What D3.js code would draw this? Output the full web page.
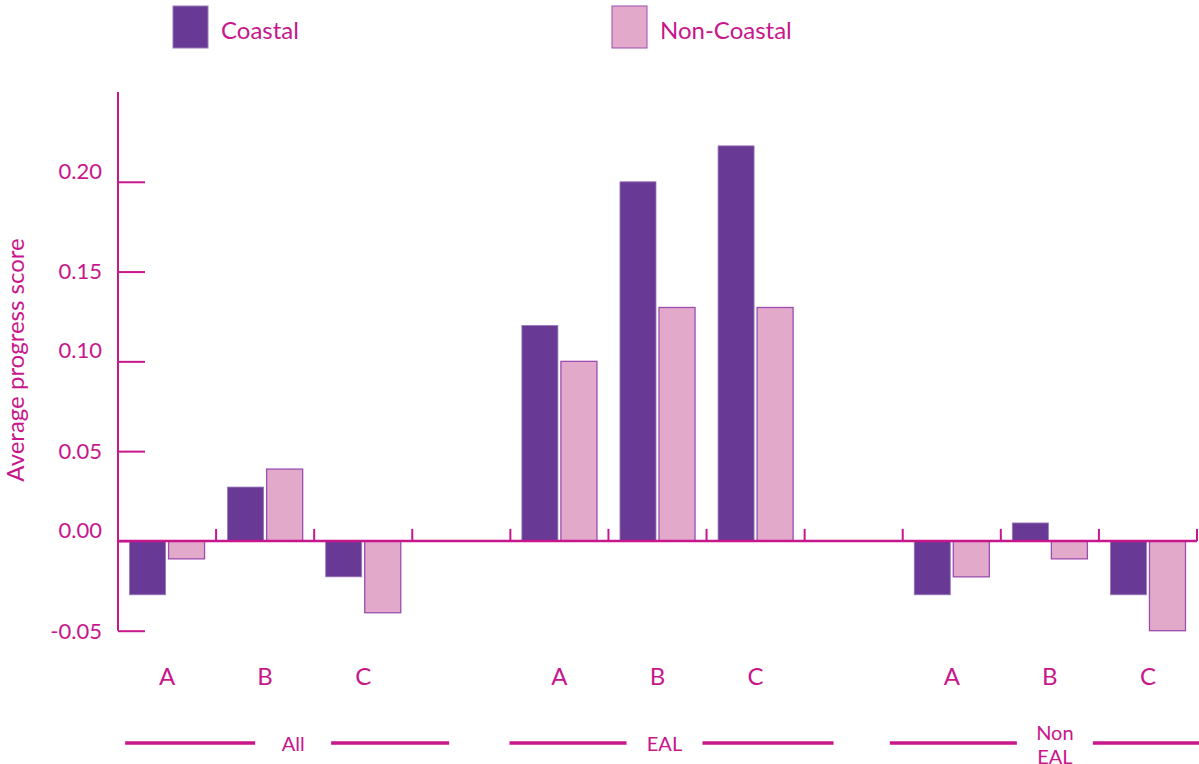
<!DOCTYPE html>
<html><head><meta charset="utf-8">
<script src="https://cdn.jsdelivr.net/npm/d3@7"></script>
<style>body{margin:0;background:#fff}svg{display:block}text{font-family:Lato,"Open Sans",sans-serif}</style>
</head><body>
<svg id="c" width="1199" height="764"></svg>
<script>
// ---- data ----
const groups = ["All", "EAL", "Non EAL"];
const subcats = ["A", "B", "C"];
const seriesNames = ["Coastal", "Non-Coastal"];
const coastal    = [-0.03, 0.03, -0.02,  0.12, 0.20, 0.22,  -0.03, 0.01, -0.03];
const nonCoastal = [-0.01, 0.04, -0.04,  0.10, 0.13, 0.13,  -0.02, -0.01, -0.05];
const yTicks = [-0.05, 0.00, 0.05, 0.10, 0.15, 0.20];

// ---- style / layout ----
const C_TEXT = "#C8168C", C_AXIS = "#C8168C";
const C_COAST = "#693A95", C_NON = "#E3A9CA", C_NON_STROKE = "#9B4DB0", C_COAST_STROKE = "#9878B8";
const svg = d3.select("#c");
const left = 118, right = 1197;

const slots = [];
groups.forEach((g, gi) => {
  subcats.forEach((s, si) => slots.push({key: g + "|" + s, g, s, i: gi * 3 + si}));
  if (gi < groups.length - 1) slots.push({key: g + "|gap", g, s: null});
});
const x = d3.scaleBand().domain(slots.map(d => d.key)).range([left, right]).paddingInner(0).paddingOuter(0);
const x1 = d3.scaleBand().domain(seriesNames).range([0, x.bandwidth()]).paddingInner(0.077).paddingOuter(0.295);
const y = d3.scaleLinear().domain([-0.05, 0.25]).range([630.7, 92]);

// y axis line
svg.append("line").attr("x1", left).attr("x2", left).attr("y1", y(0.25)).attr("y2", y(-0.05))
  .attr("stroke", C_AXIS).attr("stroke-width", 2);
const yAxis = d3.axisRight(y).tickValues(yTicks).tickSize(27).tickFormat("");
const yg = svg.append("g").attr("transform", `translate(${left},0)`).call(yAxis);
yg.select(".domain").remove();
yg.selectAll(".tick line").attr("stroke", C_AXIS).attr("stroke-width", 2);
svg.selectAll(".ylab").data(yTicks).enter().append("text")
  .attr("x", 102).attr("y", (d, i) => y(d) + (i % 2 === 1 ? -11 : 0))
  .attr("dy", "0.36em").attr("text-anchor", "end")
  .attr("fill", C_TEXT).attr("font-size", 22)
  .text(d => d3.format(".2f")(d).replace("−", "-"));

// y title
svg.append("text").attr("transform", `translate(24,360) rotate(-90)`)
  .attr("text-anchor", "middle").attr("fill", C_TEXT).attr("font-size", 24)
  .text("Average progress score");

// bars
const barData = [];
slots.filter(s => s.s).forEach(s => {
  barData.push({slot: s.key, series: "Coastal", v: coastal[s.i]});
  barData.push({slot: s.key, series: "Non-Coastal", v: nonCoastal[s.i]});
});
svg.append("g").selectAll("rect").data(barData).enter().append("rect")
  .attr("x", d => x(d.slot) + x1(d.series))
  .attr("width", x1.bandwidth())
  .attr("y", d => y(Math.max(0, d.v)))
  .attr("height", d => Math.abs(y(d.v) - y(0)))
  .attr("fill", d => d.series === "Coastal" ? C_COAST : C_NON)
  .attr("stroke", d => d.series === "Coastal" ? C_COAST_STROKE : C_NON_STROKE)
  .attr("stroke-width", d => d.series === "Coastal" ? 0.8 : 1.3);

// zero line
svg.append("line").attr("x1", left).attr("x2", right).attr("y1", y(0)).attr("y2", y(0))
  .attr("stroke", C_AXIS).attr("stroke-width", 2.5);
const bounds = slots.map(s => x(s.key) + x.bandwidth()).concat([left]);
svg.selectAll(".stick").data(bounds).enter().append("line")
  .attr("x1", d => d).attr("x2", d => d).attr("y1", y(0) - 12).attr("y2", y(0))
  .attr("stroke", C_AXIS).attr("stroke-width", 2);

// subcategory labels
svg.selectAll(".xlab").data(slots.filter(s => s.s)).enter().append("text")
  .attr("x", d => x(d.key) + x.bandwidth() / 2).attr("y", 685)
  .attr("text-anchor", "middle").attr("fill", C_TEXT).attr("font-size", 24)
  .text(d => d.s);

// group labels with lines
const textOffsets = [28, 7, 5];
const lineOffsets = [22, 14, 2];
groups.forEach((g, gi) => {
  const bc = x(g + "|B") + x.bandwidth() / 2;
  const tx = bc + textOffsets[gi], lc = bc + lineOffsets[gi];
  const half = 162, gap = 38, ly = 743;
  svg.append("line").attr("x1", lc - half).attr("x2", tx - gap).attr("y1", ly).attr("y2", ly)
    .attr("stroke", C_AXIS).attr("stroke-width", 3.5);
  svg.append("line").attr("x1", tx + gap).attr("x2", lc + half).attr("y1", ly).attr("y2", ly)
    .attr("stroke", C_AXIS).attr("stroke-width", 3.5);
  const words = g.split(" ");
  const t = svg.append("text").attr("text-anchor", "middle").attr("fill", C_TEXT).attr("font-size", 20);
  if (words.length === 1) {
    t.attr("x", tx).attr("y", 751).text(g);
  } else {
    words.forEach((w, wi) => t.append("tspan").attr("x", tx).attr("y", 740 + wi * 24).text(w));
  }
});

// legend
const legX = [173, 612];
seriesNames.forEach((s, i) => {
  svg.append("rect").attr("x", legX[i]).attr("y", 6).attr("width", 35).attr("height", 42)
    .attr("fill", i === 0 ? C_COAST : C_NON)
    .attr("stroke", i === 0 ? C_COAST_STROKE : C_NON_STROKE).attr("stroke-width", 1);
  svg.append("text").attr("x", legX[i] + 48).attr("y", 39).attr("fill", C_TEXT)
    .attr("font-size", 24).text(s);
});
</script>
</body></html>
